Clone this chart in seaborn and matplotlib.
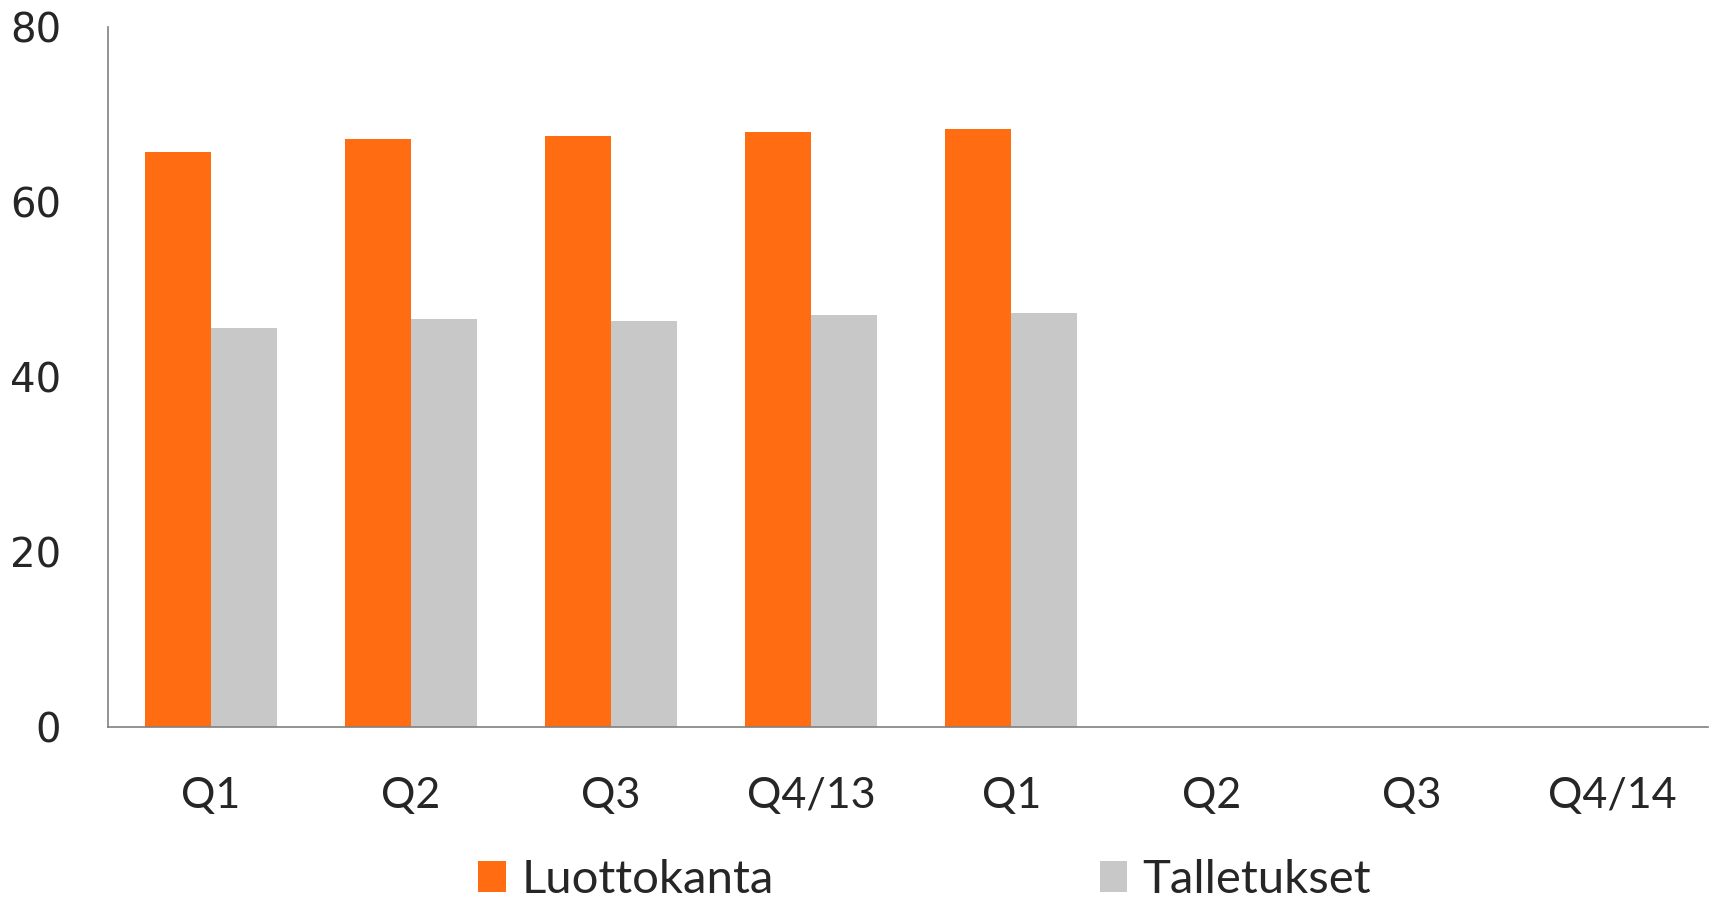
import matplotlib
matplotlib.use("Agg")
from matplotlib import pyplot as plt
import pandas as pd
import seaborn as sns

# Quarter ids (unique) and the labels shown under them
quarters = ["Q1-13", "Q2-13", "Q3-13", "Q4-13", "Q1-14", "Q2-14", "Q3-14", "Q4-14"]
tick_labels = ["Q1", "Q2", "Q3", "Q4/13", "Q1", "Q2", "Q3", "Q4/14"]

# Only five quarters have data so far
data_quarters = ["Q1-13", "Q2-13", "Q3-13", "Q4-13", "Q1-14"]
luottokanta = [65.7, 67.2, 67.5, 68.0, 68.4]
talletukset = [45.6, 46.6, 46.4, 47.1, 47.3]

series_names = ["Luottokanta", "Talletukset"]
colors = ["#FF6C12", "#C8C8C8"]

df = pd.DataFrame({
    "Quarter": data_quarters * 2,
    "Series": [series_names[0]] * len(data_quarters) + [series_names[1]] * len(data_quarters),
    "Value": luottokanta + talletukset,
})

sns.set_style("white")
plt.rcParams["font.family"] = ["Lato", "DejaVu Sans"]

fig = plt.figure(figsize=(17.19, 9), dpi=100)
ax = fig.add_axes([0.0631, 0.192, 0.9305, 0.778])

sns.barplot(data=df, x="Quarter", y="Value", hue="Series", order=quarters,
            hue_order=series_names, palette=colors, width=0.66,
            saturation=1, errorbar=None, linewidth=0, ax=ax)

ax.set_ylim(0, 80)
ax.set_yticks([0, 20, 40, 60, 80])
ax.set_xlim(-0.51, 7.48)
ax.set_xticks(range(len(quarters)))
ax.set_xticklabels(tick_labels, fontsize=31)
for lab in ax.get_yticklabels():
    lab.set_fontfamily("DejaVu Sans")
    lab.set_fontsize(29)
ax.tick_params(axis="x", length=0, pad=36)
ax.tick_params(axis="y", length=0, pad=34)
ax.set_xlabel("")
ax.set_ylabel("")

for side in ["top", "right"]:
    ax.spines[side].set_visible(False)
for side in ["left", "bottom"]:
    ax.spines[side].set_color("#808080")
    ax.spines[side].set_linewidth(1.2)

handles, labels = ax.get_legend_handles_labels()
ax.get_legend().remove()
fig.legend(handles, labels, loc="center", bbox_to_anchor=(0.538, 0.022), ncol=2,
           frameon=False, fontsize=34, handlelength=0.58, handleheight=0.65,
           handletextpad=0.33, columnspacing=6.9, borderpad=0)

plt.savefig("out.png", dpi=100)
